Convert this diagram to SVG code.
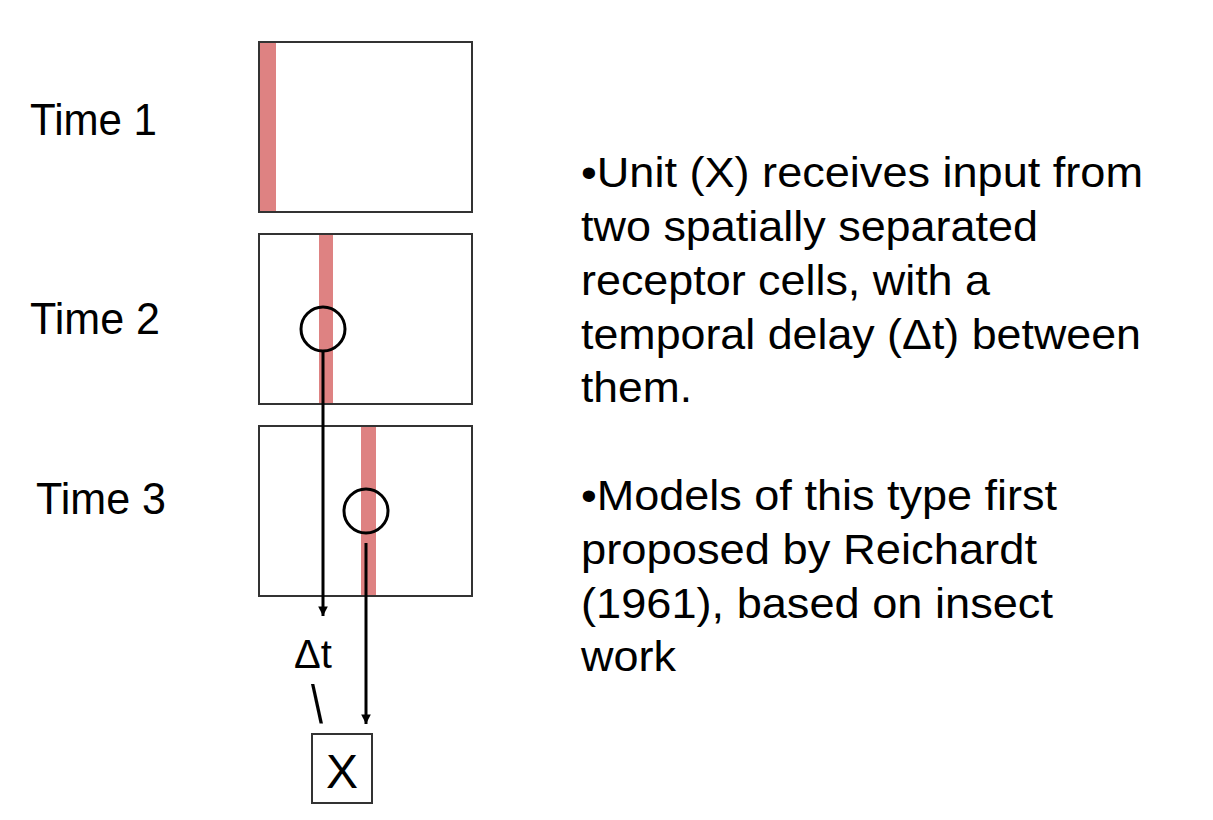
<svg xmlns="http://www.w3.org/2000/svg" width="1213" height="820" viewBox="0 0 1213 820">
  <defs>
    <style>
      .frame { fill: none; stroke: #333; stroke-width: 2; }
      .bar { fill: #de8282; stroke: none; }
      .ring { fill: none; stroke: #000; stroke-width: 3; }
      .lbl { font-family: "Liberation Sans", Arial, sans-serif; fill: #000; }
      .conn { stroke: #000; stroke-width: 3; fill: none; }
    </style>
    <marker id="arr" viewBox="0 0 10 10" refX="10" refY="5" markerWidth="3.2" markerHeight="3.4" orient="auto" markerUnits="strokeWidth">
      <path d="M0,0 L10,5 L0,10 Z" fill="#000"/>
    </marker>
  </defs>
  <rect width="1213" height="820" fill="#fff"/>

  <g id="time1">
    <text class="lbl" x="30" y="135" font-size="44" textLength="127" lengthAdjust="spacingAndGlyphs">Time 1</text>
    <rect class="bar" x="260" y="43" width="16" height="169"/>
    <rect class="frame" x="259" y="42" width="213" height="170"/>
  </g>

  <g id="time2">
    <text class="lbl" x="30" y="334" font-size="44" textLength="130" lengthAdjust="spacingAndGlyphs">Time 2</text>
    <rect class="bar" x="319" y="234" width="14" height="170"/>
    <rect class="frame" x="259" y="234" width="213" height="170"/>
    <circle class="ring" cx="323" cy="329" r="22"/>
  </g>

  <g id="time3">
    <text class="lbl" x="36" y="514" font-size="44" textLength="130" lengthAdjust="spacingAndGlyphs">Time 3</text>
    <rect class="bar" x="361" y="426" width="15" height="170"/>
    <rect class="frame" x="259" y="426" width="213" height="170"/>
    <circle class="ring" cx="366" cy="511" r="22"/>
  </g>

  <g id="unitX">
    <rect class="frame" x="312" y="734" width="60" height="69"/>
    <text class="lbl" x="342" y="788" font-size="48" text-anchor="middle">X</text>
  </g>

  <g id="delay">
    <text class="lbl" x="294" y="668" font-size="40">Δt</text>
    <text class="lbl" x="311" y="723" font-size="54" textLength="12" lengthAdjust="spacingAndGlyphs">\</text>
  </g>

  <g id="connectors">
    <line class="conn" x1="323" y1="351" x2="323" y2="616" marker-end="url(#arr)"/>
    <line class="conn" x1="366" y1="543" x2="366" y2="724" marker-end="url(#arr)"/>
  </g>

  <g id="notes" class="lbl" font-size="43">
    <text x="581" y="187" textLength="562" lengthAdjust="spacingAndGlyphs">•Unit (X) receives input from</text>
    <text x="581" y="241" textLength="457" lengthAdjust="spacingAndGlyphs">two spatially separated</text>
    <text x="581" y="295" textLength="409" lengthAdjust="spacingAndGlyphs">receptor cells, with a</text>
    <text x="581" y="349" textLength="560" lengthAdjust="spacingAndGlyphs">temporal delay (Δt) between</text>
    <text x="581" y="402" textLength="111" lengthAdjust="spacingAndGlyphs">them.</text>
    <text x="581" y="510" textLength="476" lengthAdjust="spacingAndGlyphs">•Models of this type first</text>
    <text x="581" y="564" textLength="456" lengthAdjust="spacingAndGlyphs">proposed by Reichardt</text>
    <text x="581" y="618" textLength="472" lengthAdjust="spacingAndGlyphs">(1961), based on insect</text>
    <text x="581" y="671" textLength="95" lengthAdjust="spacingAndGlyphs">work</text>
  </g>
</svg>
